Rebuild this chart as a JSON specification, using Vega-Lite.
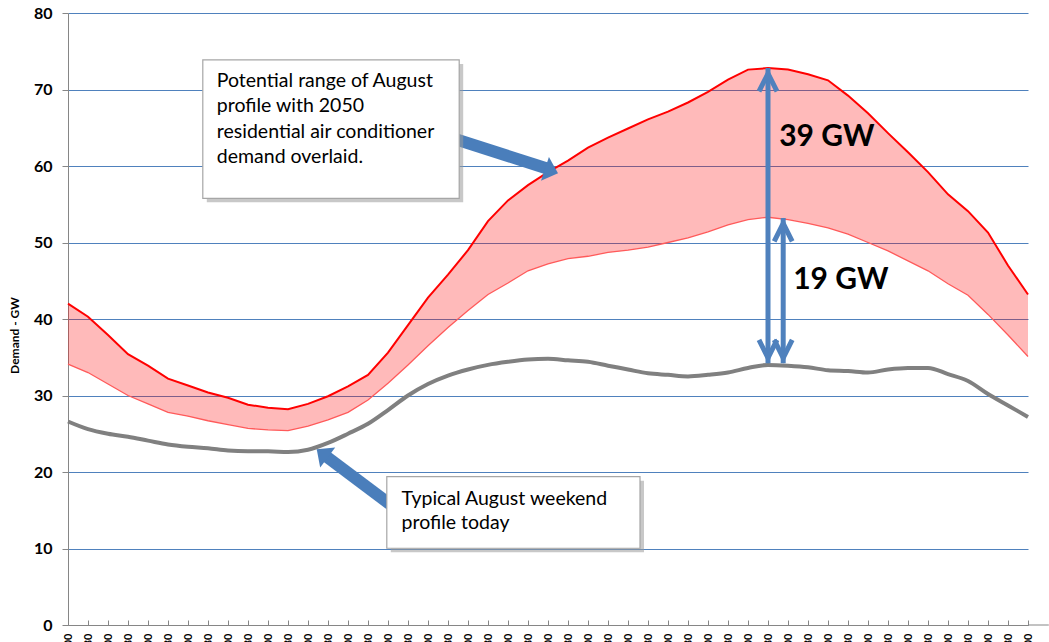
{
  "$schema": "https://vega.github.io/schema/vega-lite/v6.json",
  "width": 960,
  "height": 612,
  "autosize": "none",
  "padding": {"left": 68, "top": 13, "right": 21, "bottom": 17},
  "background": "white",
  "config": {"view": {"stroke": null}, "font": "Lato"},
  "datasets": {
    "profile": [
      {"h": 0.0, "upper": 42.0, "lower": 34.1, "today": 26.6},
      {"h": 0.5, "upper": 40.3, "lower": 33.0, "today": 25.6},
      {"h": 1.0, "upper": 37.9, "lower": 31.5, "today": 25.0},
      {"h": 1.5, "upper": 35.4, "lower": 30.0, "today": 24.6},
      {"h": 2.0, "upper": 33.9, "lower": 28.9, "today": 24.1},
      {"h": 2.5, "upper": 32.2, "lower": 27.8, "today": 23.6},
      {"h": 3.0, "upper": 31.3, "lower": 27.3, "today": 23.3},
      {"h": 3.5, "upper": 30.4, "lower": 26.7, "today": 23.1},
      {"h": 4.0, "upper": 29.7, "lower": 26.2, "today": 22.8},
      {"h": 4.5, "upper": 28.8, "lower": 25.7, "today": 22.7},
      {"h": 5.0, "upper": 28.4, "lower": 25.5, "today": 22.7},
      {"h": 5.5, "upper": 28.2, "lower": 25.4, "today": 22.6},
      {"h": 6.0, "upper": 28.9, "lower": 26.0, "today": 22.9},
      {"h": 6.5, "upper": 29.9, "lower": 26.8, "today": 23.8},
      {"h": 7.0, "upper": 31.2, "lower": 27.8, "today": 25.0},
      {"h": 7.5, "upper": 32.7, "lower": 29.4, "today": 26.3},
      {"h": 8.0, "upper": 35.6, "lower": 31.6, "today": 28.1},
      {"h": 8.5, "upper": 39.2, "lower": 34.0, "today": 30.0},
      {"h": 9.0, "upper": 42.8, "lower": 36.5, "today": 31.5},
      {"h": 9.5, "upper": 45.8, "lower": 38.9, "today": 32.6},
      {"h": 10.0, "upper": 49.0, "lower": 41.1, "today": 33.4},
      {"h": 10.5, "upper": 52.8, "lower": 43.2, "today": 34.0},
      {"h": 11.0, "upper": 55.5, "lower": 44.7, "today": 34.4},
      {"h": 11.5, "upper": 57.5, "lower": 46.3, "today": 34.7},
      {"h": 12.0, "upper": 59.2, "lower": 47.2, "today": 34.8},
      {"h": 12.5, "upper": 60.7, "lower": 47.9, "today": 34.6},
      {"h": 13.0, "upper": 62.4, "lower": 48.2, "today": 34.4},
      {"h": 13.5, "upper": 63.7, "lower": 48.7, "today": 33.9},
      {"h": 14.0, "upper": 64.9, "lower": 49.0, "today": 33.4},
      {"h": 14.5, "upper": 66.1, "lower": 49.4, "today": 32.9},
      {"h": 15.0, "upper": 67.1, "lower": 50.0, "today": 32.7},
      {"h": 15.5, "upper": 68.3, "lower": 50.6, "today": 32.5},
      {"h": 16.0, "upper": 69.7, "lower": 51.4, "today": 32.7},
      {"h": 16.5, "upper": 71.3, "lower": 52.3, "today": 33.0},
      {"h": 17.0, "upper": 72.6, "lower": 53.0, "today": 33.6},
      {"h": 17.5, "upper": 72.8, "lower": 53.3, "today": 34.0},
      {"h": 18.0, "upper": 72.6, "lower": 53.0, "today": 33.9},
      {"h": 18.5, "upper": 72.0, "lower": 52.5, "today": 33.7},
      {"h": 19.0, "upper": 71.2, "lower": 51.9, "today": 33.3},
      {"h": 19.5, "upper": 69.2, "lower": 51.1, "today": 33.2},
      {"h": 20.0, "upper": 66.9, "lower": 50.0, "today": 33.0},
      {"h": 20.5, "upper": 64.3, "lower": 48.9, "today": 33.4},
      {"h": 21.0, "upper": 61.8, "lower": 47.6, "today": 33.6},
      {"h": 21.5, "upper": 59.2, "lower": 46.3, "today": 33.6},
      {"h": 22.0, "upper": 56.3, "lower": 44.6, "today": 32.8},
      {"h": 22.5, "upper": 54.1, "lower": 43.1, "today": 31.9},
      {"h": 23.0, "upper": 51.3, "lower": 40.6, "today": 30.2},
      {"h": 23.5, "upper": 47.0, "lower": 37.9, "today": 28.7},
      {"h": 24.0, "upper": 43.2, "lower": 35.1, "today": 27.2}
    ],
    "boxes": [
      {"x1": 3.37, "x2": 9.78, "y1": 73.86, "y2": 55.78},
      {"x1": 7.97, "x2": 14.3, "y1": 19.39, "y2": 10.03}
    ],
    "boxText": [
      {"x": 3.72, "y": 71.15, "t": "Potential range of August"},
      {"x": 3.72, "y": 67.88, "t": "profile with 2050"},
      {"x": 3.72, "y": 64.48, "t": "residential air conditioner"},
      {"x": 3.72, "y": 61.14, "t": "demand overlaid."},
      {"x": 8.34, "y": 16.43, "t": "Typical August weekend"},
      {"x": 8.34, "y": 13.29, "t": "profile today"}
    ],
    "shaftA": [{"x1": 9.675, "y1": 63.53, "x2": 11.975, "y2": 59.67}],
    "tipA": [{"x": 12.25, "y": 59.05}],
    "shaftB": [{"x1": 8.175, "y1": 15.29, "x2": 6.475, "y2": 21.96}],
    "tipB": [{"x": 6.2175, "y": 22.97}],
    "dbl": [
      {"x": 17.5, "top": 72.8, "bottom": 34.2},
      {"x": 17.88, "top": 53.2, "bottom": 34.2}
    ],
    "gw": [
      {"x": 17.78, "y": 62.6, "t": "39 GW"},
      {"x": 18.13, "y": 43.9, "t": "19 GW"}
    ],
    "axisExt": [{"x1": 24, "x2": 24.52, "y": 0}]
  },
  "layer": [
    {
      "data": {"name": "profile"},
      "mark": {"type": "area", "color": "#ff0000", "opacity": 0.27},
      "encoding": {
        "x": {
          "field": "h", "type": "quantitative",
          "scale": {"domain": [0, 24], "nice": false, "zero": false},
          "axis": {
            "title": null,
            "tickCount": 48,
            "labelExpr": "(datum.value < 10 ? '0' : '') + floor(datum.value) + ':' + (datum.value % 1 ? '30' : '00')",
            "labelAngle": -90,
            "labelFontSize": 11,
            "labelFontWeight": "bold",
            "labelColor": "#000000",
            "labelOverlap": false,
            "labelFlush": false,
            "labelBound": false,
            "labelPadding": 13,
            "tickSize": -5,
            "tickColor": "#868686",
            "domainColor": "#868686",
            "grid": false
          }
        },
        "y": {
          "field": "upper", "type": "quantitative",
          "scale": {"domain": [0, 80], "nice": false, "zero": true},
          "axis": {
            "title": "Demand - GW",
            "titleFont": "Lato",
            "titleFontSize": 12,
            "titleFontWeight": "bold",
            "titleColor": "#000000",
            "titleX": -47,
            "titleY": 322,
            "tickCount": 8,
            "labelFontSize": 16,
            "labelFontWeight": "bold",
            "labelColor": "#000000",
            "labelPadding": 10,
            "tickSize": 6,
            "tickColor": "#868686",
            "domainColor": "#868686",
            "grid": true,
            "gridColor": "#4f81bd",
            "gridWidth": 1
          }
        },
        "y2": {"field": "lower"}
      }
    },
    {
      "data": {"name": "profile"},
      "mark": {"type": "line", "color": "#ff0000", "strokeWidth": 2},
      "encoding": {
        "x": {"field": "h", "type": "quantitative"},
        "y": {"field": "upper", "type": "quantitative"}
      }
    },
    {
      "data": {"name": "profile"},
      "mark": {"type": "line", "color": "#ff5a5a", "strokeWidth": 1.3},
      "encoding": {
        "x": {"field": "h", "type": "quantitative"},
        "y": {"field": "lower", "type": "quantitative"}
      }
    },
    {
      "data": {"name": "profile"},
      "mark": {"type": "line", "color": "#808080", "strokeWidth": 4, "interpolate": "monotone"},
      "encoding": {
        "x": {"field": "h", "type": "quantitative"},
        "y": {"field": "today", "type": "quantitative"}
      }
    },
    {
      "data": {"name": "axisExt"},
      "mark": {"type": "rule", "color": "#868686", "strokeWidth": 1},
      "encoding": {
        "x": {"field": "x1", "type": "quantitative"}, "x2": {"field": "x2"},
        "y": {"field": "y", "type": "quantitative"}
      }
    },
    {
      "data": {"name": "shaftA"},
      "mark": {"type": "rule", "color": "#4a7ebb", "strokeWidth": 12},
      "encoding": {
        "x": {"field": "x1", "type": "quantitative"}, "x2": {"field": "x2"},
        "y": {"field": "y1", "type": "quantitative"}, "y2": {"field": "y2"}
      }
    },
    {
      "data": {"name": "tipA"},
      "mark": {"type": "point", "shape": "M 0 0 L -1.1 -1 L -1.1 1 Z", "size": 625, "angle": 18.5, "filled": true, "color": "#4a7ebb", "opacity": 1},
      "encoding": {
        "x": {"field": "x", "type": "quantitative"},
        "y": {"field": "y", "type": "quantitative"}
      }
    },
    {
      "data": {"name": "shaftB"},
      "mark": {"type": "rule", "color": "#4a7ebb", "strokeWidth": 12},
      "encoding": {
        "x": {"field": "x1", "type": "quantitative"}, "x2": {"field": "x2"},
        "y": {"field": "y1", "type": "quantitative"}, "y2": {"field": "y2"}
      }
    },
    {
      "data": {"name": "tipB"},
      "mark": {"type": "point", "shape": "M 0 0 L -1.1 -1 L -1.1 1 Z", "size": 625, "angle": 216.9, "filled": true, "color": "#4a7ebb", "opacity": 1},
      "encoding": {
        "x": {"field": "x", "type": "quantitative"},
        "y": {"field": "y", "type": "quantitative"}
      }
    },
    {
      "data": {"name": "boxes"},
      "mark": {"type": "rect", "color": "#9a9a9a", "opacity": 0.55, "xOffset": 4, "x2Offset": 4, "yOffset": 4, "y2Offset": 4},
      "encoding": {
        "x": {"field": "x1", "type": "quantitative"}, "x2": {"field": "x2"},
        "y": {"field": "y1", "type": "quantitative"}, "y2": {"field": "y2"}
      }
    },
    {
      "data": {"name": "boxes"},
      "mark": {"type": "rect", "fill": "#ffffff", "stroke": "#a6a6a6", "strokeWidth": 1.2, "opacity": 1},
      "encoding": {
        "x": {"field": "x1", "type": "quantitative"}, "x2": {"field": "x2"},
        "y": {"field": "y1", "type": "quantitative"}, "y2": {"field": "y2"}
      }
    },
    {
      "data": {"name": "boxText"},
      "mark": {"type": "text", "align": "left", "baseline": "middle", "font": "Lato", "fontSize": 19.5, "color": "#000000"},
      "encoding": {
        "x": {"field": "x", "type": "quantitative"},
        "y": {"field": "y", "type": "quantitative"},
        "text": {"field": "t"}
      }
    },
    {
      "data": {"name": "dbl"},
      "mark": {"type": "rule", "color": "#4f81bd", "strokeWidth": 5},
      "encoding": {
        "x": {"field": "x", "type": "quantitative"},
        "y": {"field": "top", "type": "quantitative"}, "y2": {"field": "bottom"}
      }
    },
    {
      "data": {"name": "dbl"},
      "mark": {"type": "point", "shape": "M -1 2.6 L 0 0.6 L 1 2.6", "size": 324, "filled": false, "stroke": "#4f81bd", "strokeWidth": 5, "opacity": 1},
      "encoding": {
        "x": {"field": "x", "type": "quantitative"},
        "y": {"field": "top", "type": "quantitative"}
      }
    },
    {
      "data": {"name": "dbl"},
      "mark": {"type": "point", "shape": "M -1 -2.6 L 0 -0.6 L 1 -2.6", "size": 324, "filled": false, "stroke": "#4f81bd", "strokeWidth": 5, "opacity": 1},
      "encoding": {
        "x": {"field": "x", "type": "quantitative"},
        "y": {"field": "bottom", "type": "quantitative"}
      }
    },
    {
      "data": {"name": "gw"},
      "mark": {"type": "text", "align": "left", "baseline": "alphabetic", "font": "Lato", "fontSize": 30, "fontWeight": "bold", "color": "#000000"},
      "encoding": {
        "x": {"field": "x", "type": "quantitative"},
        "y": {"field": "y", "type": "quantitative"},
        "text": {"field": "t"}
      }
    }
  ]
}
